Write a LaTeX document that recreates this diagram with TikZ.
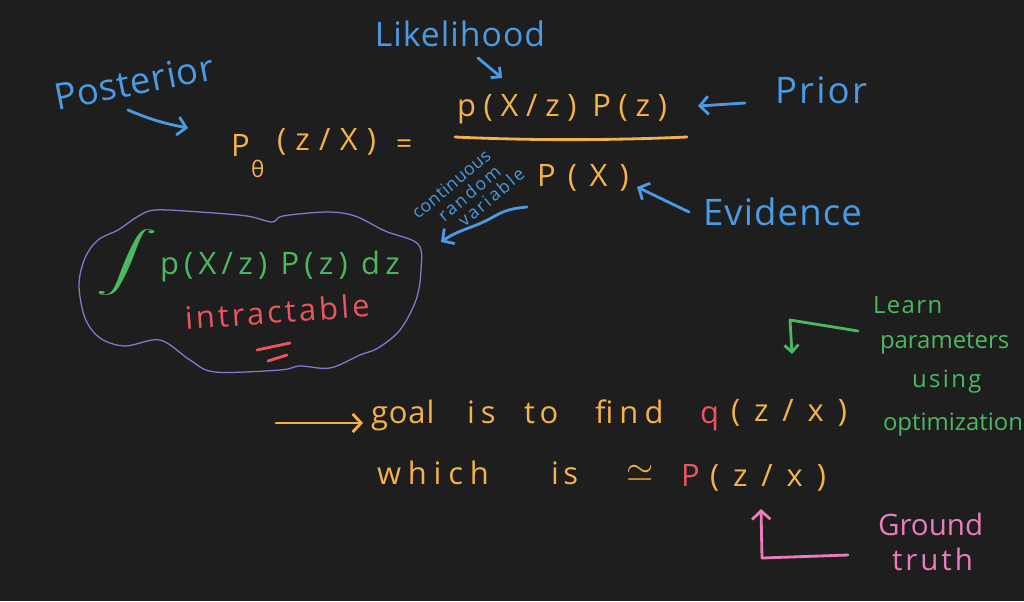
\documentclass[tikz,border=0pt]{standalone}
\usepackage{amsmath}
\usepackage{fontspec}
\setmainfont{Open Sans}
\usetikzlibrary{arrows.meta}
\definecolor{bgc}{HTML}{1E1E1E}
\definecolor{hblue}{HTML}{4A9BE3}
\definecolor{horange}{HTML}{F4B24A}
\definecolor{hgreen}{HTML}{4CB862}
\definecolor{hred}{HTML}{EB5560}
\definecolor{hpink}{HTML}{EA7CBA}
\definecolor{hpurple}{HTML}{8878D0}
\newcommand{\hwfont}[2]{\fontsize{#1}{#1}\selectfont\addfontfeature{LetterSpace=#2}}
\begin{document}
\begin{tikzpicture}[x=0.025cm,y=-0.025cm,
  txt/.style={inner sep=0pt, outer sep=0pt},
  pen/.style={line width=2pt, line cap=round, line join=round},
  barb/.style={pen, -{Straight Barb[length=6pt,width=13pt]}},
  cloud/.style={hpurple, line width=0.9pt, line join=round},
  small/.style={txt, hblue, rotate=40}]
\fill[bgc] (0,0) rectangle (1024,601);
\useasboundingbox (0,0) rectangle (1024,601);

% ---- blue labels
\node[txt, hblue, anchor=base, font=\hwfont{24}{3}] (lik) at (460,46) {Likelihood};
\node[txt, hblue, rotate=11, font=\hwfont{26}{2}] (post) at (134,82) {Posterior};
\node[txt, hblue, anchor=base west, font=\hwfont{26}{6}] (prior) at (775,103) {Prior};
\node[txt, hblue, anchor=base west, font=\hwfont{26}{3}] (evid) at (703,225) {Evidence};
\node[small, font=\hwfont{12.5}{3}] (cont) at (451,184) {continuous};
\node[small, font=\hwfont{12.5}{12}] (rand) at (469,193) {random};
\node[small, font=\hwfont{12.5}{12}] (vari) at (491,197) {variable};

% ---- orange formula
\node[txt, horange, anchor=base west, font=\hwfont{22}{0}] (pth) at (231,156) {P\kern1pt\raisebox{-15pt}{\fontsize{16}{16}\selectfont θ}};
\node[txt, horange, anchor=base west, font=\hwfont{22}{30}] (zx) at (277,150) {(z/X)};
\node[txt, horange, anchor=base west, font=\hwfont{20}{0}] (eq) at (396,153) {=};
\node[txt, horange, anchor=base west, font=\hwfont{22}{25}] (num) at (457,116) {p(X/z) P(z)};
\coordinate (fl1) at (455,137);
\coordinate (fl2) at (687,137);
\draw[pen, horange] (fl1) .. controls (540,141) and (620,140) .. (fl2);
\node[txt, horange, anchor=base west, font=\hwfont{22}{40}] (den) at (537,186) {P(X)};

% ---- cloud with integral
\draw[cloud] plot[smooth cycle, tension=0.55] coordinates {
 (79,285) (85,258) (98,240) (118,230) (137,217) (155,210) (200,212) (247,216)
 (272,222) (283,216) (327,212) (355,216) (385,231) (418,244) (421,270) (416,300)
 (400,330) (378,348) (360,355) (330,368) (300,366) (280,370) (215,372) (190,360)
 (160,340) (125,346) (100,338) (85,318)};
\node[txt, hgreen, font=\fontsize{24}{24}\selectfont] (intg) at (127,263) {\scalebox{1.8}[0.85]{$\displaystyle\int$}};
\node[txt, hgreen, anchor=base west, font=\hwfont{22}{17}] (integ) at (160,274) {p(X/z) P(z) dz};
\node[txt, hred, anchor=base, rotate=4, font=\hwfont{22}{10}] (intr) at (278,323) {intractable};
\coordinate (u1a) at (257,350); \coordinate (u1b) at (290,343);
\coordinate (u2a) at (268,361); \coordinate (u2b) at (287,355);
\draw[pen, hred] (u1a) -- (u1b);
\draw[pen, hred] (u2a) -- (u2b);

% ---- goal lines
\node[txt, horange, anchor=base west, font=\hwfont{22}{3}] (goal) at (371,423) {goal};
\node[txt, horange, anchor=base west, font=\hwfont{22}{20}] (is1) at (467,423) {is};
\node[txt, horange, anchor=base west, font=\hwfont{22}{15}] (to) at (524,423) {to};
\node[txt, horange, anchor=base west, font=\hwfont{22}{20}] (find) at (595,423) {find};
\node[txt, hred, anchor=base west, font=\hwfont{22}{0}] (q) at (700,423) {q};
\node[txt, horange, anchor=base west, font=\hwfont{22}{45}] (qzx) at (731,421) {(z/x)};
\node[txt, horange, anchor=base west, font=\hwfont{22}{22}] (which) at (377,484) {which};
\node[txt, horange, anchor=base west, font=\hwfont{22}{15}] (is2) at (551,484) {is};
\node[txt, horange, font=\fontsize{26}{26}\selectfont] (sim) at (640,473) {$\simeq$};
\node[txt, hred, anchor=base west, font=\hwfont{22}{0}] (pr) at (681,486) {P};
\node[txt, horange, anchor=base west, font=\hwfont{22}{45}] (pzx) at (710,486) {(z/x)};

% ---- green note
\node[txt, hgreen, anchor=base west, font=\hwfont{17}{6}] (learn) at (873,313) {Learn};
\node[txt, hgreen, anchor=base west, font=\hwfont{17}{0}] (params) at (880,348) {parameters};
\node[txt, hgreen, anchor=base west, font=\hwfont{17}{10}] (using) at (912,387) {using};
\node[txt, hgreen, anchor=base west, font=\hwfont{17}{0}] (optim) at (883,430) {optimization};

% ---- pink note
\node[txt, hpink, anchor=base west, font=\hwfont{21}{0}] (ground) at (878,535) {Ground};
\node[txt, hpink, anchor=base west, font=\hwfont{21}{10}] (truth) at (892,570) {truth};

% ---- connectors
\coordinate (poa1) at (128,110); \coordinate (poa2) at (188,128);
\draw[barb, hblue] (poa1) to[bend right=6] (poa2);
\coordinate (lka1) at (478,58); \coordinate (lka2) at (502,78);
\draw[barb, hblue, -{Straight Barb[length=5pt,width=10pt]}] (lka1) -- (lka2);
\coordinate (pra1) at (745,103); \coordinate (pra2) at (698,106);
\draw[barb, hblue] (pra1) -- (pra2);
\coordinate (eva1) at (689,212); \coordinate (eva2) at (637,187);
\draw[barb, hblue] (eva1) -- (eva2);
\coordinate (wa1) at (527,207); \coordinate (wa2) at (493,217); \coordinate (wa3) at (441,242);
\draw[barb, hblue] (wa1) to[out=185,in=30] (wa2) to[out=210,in=35] (wa3);
\coordinate (oa1) at (276,423); \coordinate (oa2) at (363,423);
\draw[barb, horange] (oa1) -- (oa2);
\coordinate (ga1) at (858,331); \coordinate (ga2) at (790,320); \coordinate (ga3) at (792,354);
\draw[barb, hgreen, -{Straight Barb[length=5pt,width=10pt]}] (ga1) -- (ga2) -- (ga3);
\coordinate (pka1) at (848,555); \coordinate (pka2) at (762,558); \coordinate (pka3) at (761,509);
\draw[barb, hpink] (pka1) -- (pka2) -- (pka3);
\end{tikzpicture}
\end{document}
